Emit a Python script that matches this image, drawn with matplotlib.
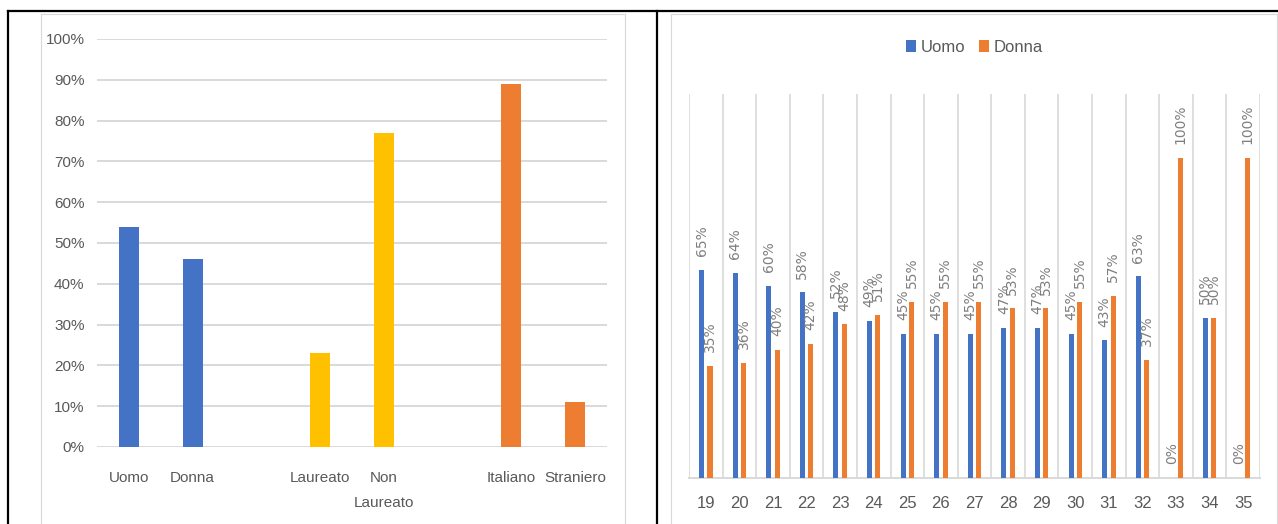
import numpy as np
from matplotlib import pyplot as plt
from matplotlib.lines import Line2D
from matplotlib.ticker import PercentFormatter, FixedLocator

# left chart: shares per group (Uomo/Donna, Laureato/Non Laureato, Italiano/Straniero)
categories = ["Uomo", "Donna", "Laureato", "Non\nLaureato", "Italiano", "Straniero"]
shares = [0.54, 0.46, 0.23, 0.77, 0.89, 0.11]
groups = [0, 0, 1, 1, 2, 2]
group_colors = ["#4472C4", "#FFC000", "#ED7D31"]

# right chart: gender split by age
ages = [19, 20, 21, 22, 23, 24, 25, 26, 27, 28, 29, 30, 31, 32, 33, 34, 35]
uomo = [0.65, 0.64, 0.60, 0.58, 0.52, 0.49, 0.45, 0.45, 0.45, 0.47, 0.47, 0.45, 0.43, 0.63, 0.00, 0.50, 0.00]
donna = [0.35, 0.36, 0.40, 0.42, 0.48, 0.51, 0.55, 0.55, 0.55, 0.53, 0.53, 0.55, 0.57, 0.37, 1.00, 0.50, 1.00]

BLUE = "#4472C4"
ORANGE = "#ED7D31"
GRID = "#D9D9D9"
TEXT = "#595959"
LABEL = "#7F7F7F"

W, H = 1278, 524

plt.rcParams["font.family"] = ["Liberation Sans", "DejaVu Sans"]


def fx(px: float) -> float:
    return px / W


def fy(py: float) -> float:
    return 1 - py / H


def frame_line(fig, x0, y0, x1, y1, color="black", lw=1.6):
    fig.add_artist(Line2D([fx(x0), fx(x1)], [fy(y0), fy(y1)],
                          transform=fig.transFigure, color=color, lw=lw))


fig = plt.figure(figsize=(W / 100, H / 100), dpi=100)

# document table borders
frame_line(fig, 8, 11, W, 11)
frame_line(fig, 8, 11, 8, H)
frame_line(fig, 657, 11, 657, H)

# chart-area outlines
for left, right in [(41, 625), (671, 1277)]:
    frame_line(fig, left, 14, right, 14, GRID, 0.8)
    frame_line(fig, left, 14, left, H, GRID, 0.8)
    frame_line(fig, right, 14, right, H, GRID, 0.8)

# ---- left chart
ax1 = fig.add_axes([fx(97), fy(447), fx(607) - fx(97), fy(39) - fy(447)])
pos = [i + g for i, g in enumerate(groups)]
ax1.bar(pos, shares, width=0.31, color=[group_colors[g] for g in groups], zorder=3)
ax1.set_xlim(-0.5, 7.5)
ax1.set_ylim(0, 1)
ax1.set_yticks(np.arange(0, 1.01, 0.1))
ax1.yaxis.set_major_formatter(PercentFormatter(1.0, decimals=0))
ax1.set_xticks(pos)
ax1.set_xticklabels(categories, linespacing=2.0)
ax1.grid(axis="y", color=GRID, lw=1.4, zorder=0)
for s in ax1.spines.values():
    s.set_visible(False)
ax1.tick_params(axis="y", length=0, pad=9, labelsize=11, labelcolor=TEXT)
ax1.tick_params(axis="x", length=0, pad=17, labelsize=11, labelcolor=TEXT)
for t in ax1.get_xticklabels():
    t.set_verticalalignment("top")

# ---- right chart
ax2 = fig.add_axes([fx(689), fy(478), fx(1260) - fx(689), fy(94) - fy(478)])
x = np.arange(len(ages))
off, bw = 0.125, 0.15
ax2.bar(x - off, uomo, width=bw, color=BLUE, label="Uomo", zorder=3)
ax2.bar(x + off, donna, width=bw, color=ORANGE, label="Donna", zorder=3)
for xs, vals in [(x - off, uomo), (x + off, donna)]:
    for xi, v in zip(xs, vals):
        ax2.annotate(f"{v:.0%}", (xi, v), xytext=(0, 10), textcoords="offset points",
                     rotation=90, ha="center", va="bottom", fontsize=10,
                     color=LABEL, family="DejaVu Sans", zorder=4)
ax2.set_xlim(-0.5, len(ages) - 0.5)
ax2.set_ylim(0, 1.2)
ax2.set_yticks([])
ax2.set_xticks(x)
ax2.set_xticklabels([str(a) for a in ages])
ax2.xaxis.set_minor_locator(FixedLocator(np.arange(len(ages) + 1) - 0.5))
ax2.grid(axis="x", which="minor", color=GRID, lw=1.2, zorder=0)
for name, s in ax2.spines.items():
    s.set_visible(name == "bottom")
ax2.spines["bottom"].set_color(GRID)
ax2.spines["bottom"].set_linewidth(1.4)
ax2.tick_params(axis="x", which="both", length=0, pad=13, labelsize=12, labelcolor=TEXT)
ax2.legend(loc="center", bbox_to_anchor=(0.5, 1.122), ncol=2, frameon=False,
           handlelength=0.6, handleheight=0.8, handletextpad=0.3, columnspacing=0.8,
           fontsize=12, labelcolor=TEXT)

fig.savefig("out.png", dpi=100)
